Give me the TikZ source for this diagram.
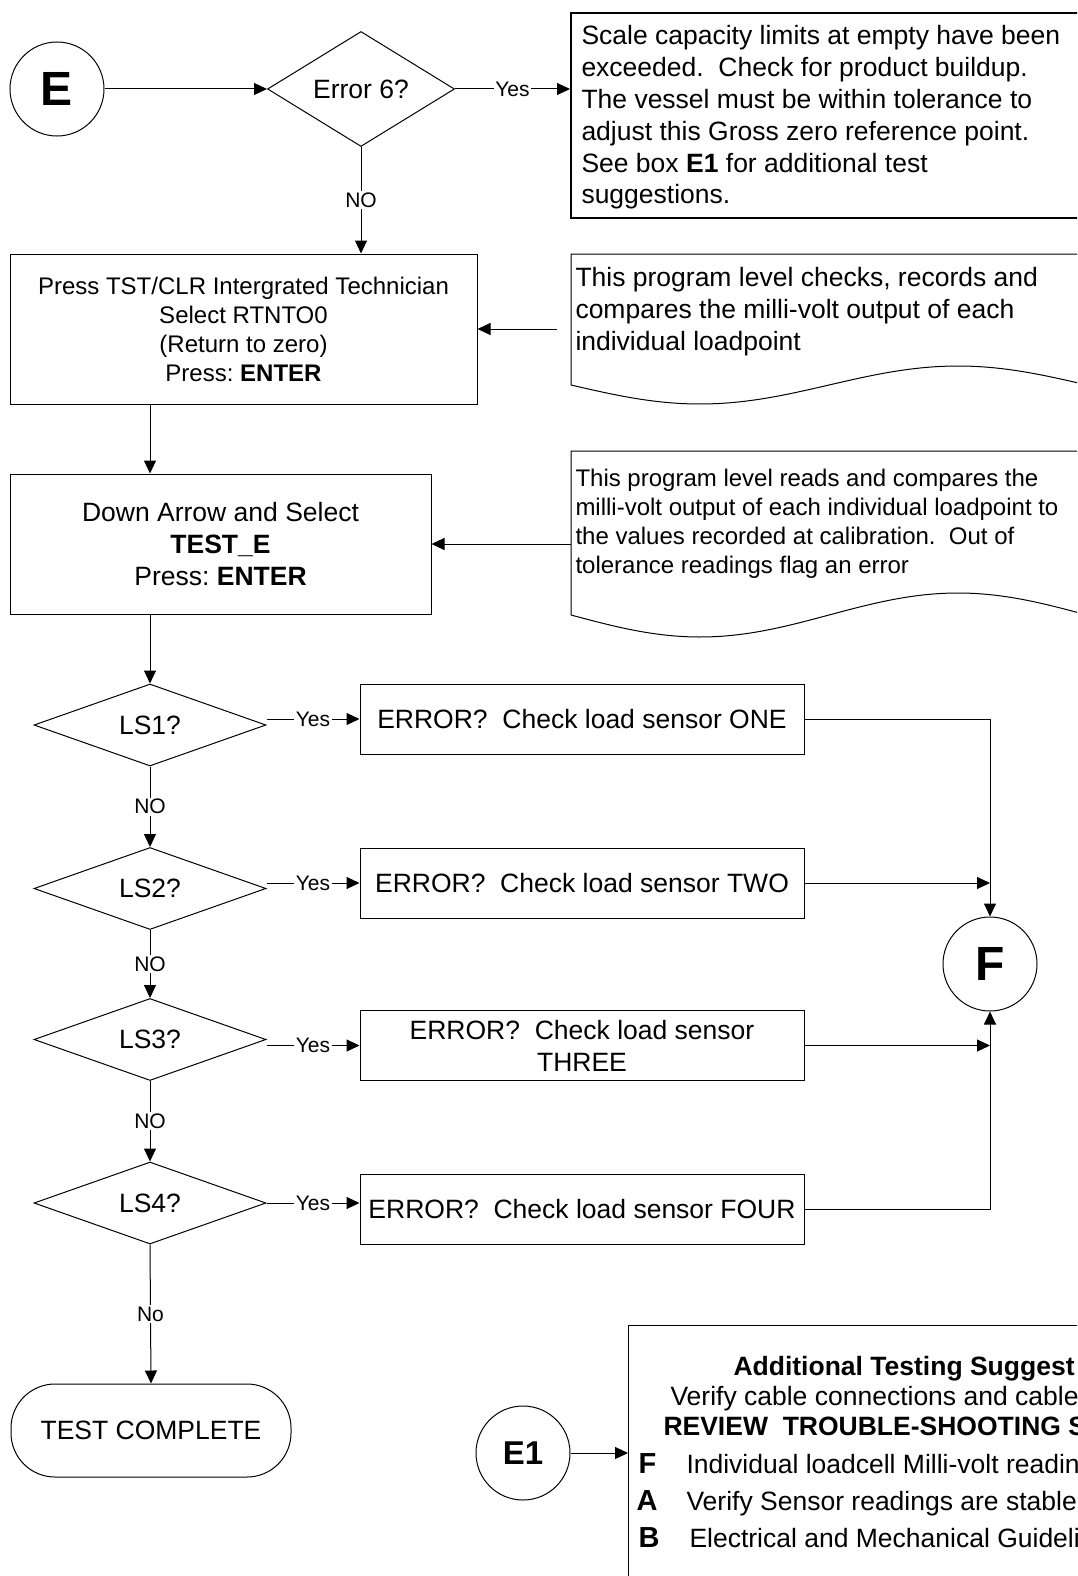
\documentclass[tikz,border=0pt]{standalone}
\usepackage{fontspec}
\setmainfont{Liberation Sans}
\usetikzlibrary{shapes.geometric,arrows.meta}
\frenchspacing
\begin{document}
\begin{tikzpicture}[x=1pt,y=-1pt,line width=1pt,
 arr/.style={-{Triangle[length=13pt,width=12pt]}},
 lbl/.style={fill=white,inner sep=1.5pt,font=\fontsize{21}{24}\selectfont},
 big/.style={font=\fontsize{26.5}{31.8}\selectfont},
 bigb/.style={font=\bfseries\fontsize{26.5}{31.8}\selectfont},
 keyb/.style={font=\bfseries\fontsize{29}{33}\selectfont},
 circ/.style={draw,circle,minimum size=94pt,inner sep=0pt},
 dia/.style={draw,diamond,inner sep=0pt,minimum width=232pt,minimum height=82pt,big},
 ebox/.style={draw,rectangle,inner sep=0pt,minimum width=444pt,minimum height=70pt,align=center,big},
 txt/.style={inner sep=0pt,anchor=base west}
]
\useasboundingbox (0,0) rectangle (1077,1576);
\clip (0,0) rectangle (1077,1576);

% --- top row
\node[circ,font=\bfseries\fontsize{48}{48}\selectfont] (E) at (57,89) {E};
\node[draw,diamond,inner sep=0pt,minimum width=187pt,minimum height=115pt,big] (d6) at (361,89) {Error 6?};
\node[draw,line width=1.6pt,rectangle,anchor=north west,inner sep=0pt,minimum width=530pt,minimum height=205pt] (msg) at (570,12) {};
\node[anchor=north west,inner sep=0pt,align=left,big] (msgt) at (581,22.2) {\strut Scale capacity limits at empty have been\\
exceeded.\ \ Check for product buildup.\\
The vessel must be within tolerance to\\
adjust this Gross zero reference point.\\
See box \textbf{E1} for additional test\\
suggestions.};

% --- process boxes
\node[draw,rectangle,inner sep=0pt,minimum width=467pt,minimum height=150pt,align=center,font=\fontsize{24}{29}\selectfont] (box1) at (243.5,329) {Press TST/CLR Intergrated Technician\\ Select RTNTO0\\ (Return to zero)\\ Press: \textbf{ENTER}};
\node[draw,rectangle,inner sep=0pt,minimum width=421pt,minimum height=140pt,align=center,big] (box2) at (220.5,544) {Down Arrow and Select\\ \textbf{TEST\_E}\\ Press: \textbf{ENTER}};

% --- notes (document shapes)
\node[anchor=north west,inner sep=0pt,minimum width=516pt,minimum height=131pt] (note1) at (571,254) {};
\draw[fill=white] (1087,385) -- (1087,254) -- (571,254) -- (571,385)
  -- plot[domain=0:516,samples=90] ({571+\x},{385+19*sin(\x/516*360)}) -- cycle;
\node[anchor=north west,inner sep=0pt,align=left,big] (note1t) at (575,264.1) {\strut This program level checks, records and\\ compares the milli-volt output of each\\ individual loadpoint};

\node[anchor=north west,inner sep=0pt,minimum width=516pt,minimum height=164pt] (note2) at (571,451) {};
\draw[fill=white] (1087,615) -- (1087,451) -- (571,451) -- (571,615)
  -- plot[domain=0:516,samples=90] ({571+\x},{615+22*sin(\x/516*360)}) -- cycle;
\node[anchor=north west,inner sep=0pt,align=left,font=\fontsize{24}{29.2}\selectfont] (note2t) at (575,465.2) {\strut This program level reads and compares the\\ milli-volt output of each individual loadpoint to\\ the values recorded at calibration.\ \ Out of\\ tolerance readings flag an error};

% --- decisions
\node[dia] (ls1) at (150,725) {LS1?};
\node[dia] (ls2) at (150,888.5) {LS2?};
\node[dia] (ls3) at (150,1039.5) {LS3?};
\node[dia] (ls4) at (150,1203) {LS4?};

\node[ebox] (eb1) at (582,719) {ERROR?\ \ Check load sensor ONE};
\node[ebox] (eb2) at (582,883) {ERROR?\ \ Check load sensor TWO};
\node[ebox] (eb3) at (582,1045.5) {ERROR?\ \ Check load sensor\\ THREE};
\node[ebox] (eb4) at (582,1209) {ERROR?\ \ Check load sensor FOUR};

\node[circ,font=\bfseries\fontsize{48}{48}\selectfont] (F) at (990,964) {F};

\node[draw,rounded corners=44pt,inner sep=0pt,minimum width=280pt,minimum height=93pt,big] (tc) at (151,1430.5) {TEST COMPLETE};

% --- E1 and suggestions box
\node[circ,font=\bfseries\fontsize{33}{36}\selectfont] (E1) at (523,1453) {E1};
\node[draw,rectangle,anchor=north west,inner sep=0pt,minimum width=480pt,minimum height=280pt] (sug) at (628,1325) {};
\node[txt,bigb] (s1) at (733,1375) {Additional Testing Suggest};
\node[txt,big] (s2) at (670,1405) {Verify cable connections and cable};
\node[txt,bigb] (s3) at (663,1435) {REVIEW\ \ TROUBLE-SHOOTING S};
\node[txt,keyb] (kF) at (638,1473) {F};
\node[txt,big] (s4) at (686,1473) {Individual loadcell Milli-volt readin};
\node[txt,keyb] (kA) at (636,1510) {A};
\node[txt,big] (s5) at (686,1510) {Verify Sensor readings are stable};
\node[txt,keyb] (kB) at (638,1547) {B};
\node[txt,big] (s6) at (689,1547) {Electrical and Mechanical Guideli};

% --- connectors
\draw[arr] (E) -- (d6);
\draw[arr] (d6.east) -- node[lbl]{Yes} (d6.east -| msg.west);
\draw[arr] (d6.south) -- node[lbl]{NO} (d6.south |- box1.north);
\draw[arr] ([xshift=-14pt]note1.west |- box1.east) -- (box1.east);
\draw[arr] (box1.south -| ls1.north) -- (box2.north -| ls1.north);
\draw[arr] (note2.west |- box2.east) -- (box2.east);
\draw[arr] (box2.south -| ls1.north) -- (ls1.north);

\draw[arr] (ls1.south) -- node[lbl]{NO} (ls2.north);
\draw[arr] (ls2.south) -- node[lbl]{NO} (ls3.north);
\draw[arr] (ls3.south) -- node[lbl]{NO} (ls4.north);
\draw[arr] (ls4.south) -- node[lbl]{No} (tc.north);

\draw[arr] (ls1.east |- eb1.west) -- node[lbl]{Yes} (eb1.west);
\draw[arr] (ls2.east |- eb2.west) -- node[lbl]{Yes} (eb2.west);
\draw[arr] (ls3.east |- eb3.west) -- node[lbl]{Yes} (eb3.west);
\draw[arr] (ls4.east) -- node[lbl]{Yes} (ls4.east -| eb4.west);

\draw[arr] (eb1.east) -| (F.north);
\draw[arr] (eb2.east) -- (eb2.east -| F.north);
\draw[arr] (eb3.east) -- (eb3.east -| F.north);
\draw[arr] (eb4.east) -| (F.south);

\draw[arr] (E1.east) -- (E1.east -| sug.west);
\end{tikzpicture}
\end{document}
